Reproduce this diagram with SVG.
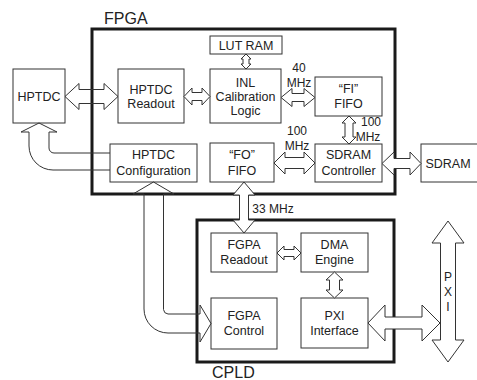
<svg xmlns="http://www.w3.org/2000/svg" width="477" height="380" viewBox="0 0 477 380">
<style>
.box{fill:#fff;stroke:#333;stroke-width:1}
.cont{fill:none;stroke:#1a1a1a;stroke-width:3}
.t{font-family:"Liberation Sans",Arial,sans-serif;font-size:12.5px;fill:#222;text-anchor:middle}
.s{font-family:"Liberation Sans",Arial,sans-serif;font-size:12px;fill:#222;text-anchor:middle}
.big{font-family:"Liberation Sans",Arial,sans-serif;font-size:16px;fill:#222}
.arr{fill:#fff;stroke:#333;stroke-width:1;stroke-linejoin:miter}
.open{fill:none;stroke:#333;stroke-width:1}
</style>
<rect width="477" height="380" fill="#fff"/>

<g id="fpga">
<rect class="cont" x="92" y="29" width="303" height="165"/>
<text class="big" x="104" y="24">FPGA</text>
</g>
<g id="cpld">
<rect class="cont" x="197" y="220" width="197" height="142"/>
<text class="big" x="212" y="378">CPLD</text>
</g>

<g id="hptdc">
<rect class="box" x="13" y="69" width="52" height="54"/>
<text class="t" x="39" y="100.5">HPTDC</text>
</g>
<g id="hptdc-readout">
<rect class="box" x="118" y="69" width="66" height="54"/>
<text class="t" x="151" y="94">HPTDC</text>
<text class="t" x="151" y="108">Readout</text>
</g>
<g id="lut-ram">
<rect class="box" x="210" y="36" width="72" height="18"/>
<text class="t" x="246" y="50">LUT RAM</text>
</g>
<g id="inl">
<rect class="box" x="210" y="69" width="71" height="54"/>
<text class="t" x="245.5" y="87">INL</text>
<text class="t" x="245.5" y="101">Calibration</text>
<text class="t" x="245.5" y="115">Logic</text>
</g>
<g id="fi-fifo">
<rect class="box" x="315" y="77" width="67" height="39"/>
<text class="t" x="348.5" y="93">“FI”</text>
<text class="t" x="348.5" y="108">FIFO</text>
</g>
<g id="hptdc-config">
<rect class="box" x="110" y="144" width="87" height="38"/>
<text class="t" x="153.5" y="159">HPTDC</text>
<text class="t" x="153.5" y="175">Configuration</text>
</g>
<g id="fo-fifo">
<rect class="box" x="210" y="143" width="64" height="39"/>
<text class="t" x="242" y="159">“FO”</text>
<text class="t" x="242" y="175">FIFO</text>
</g>
<g id="sdram-ctrl">
<rect class="box" x="315" y="144" width="67" height="38"/>
<text class="t" x="348.5" y="159">SDRAM</text>
<text class="t" x="348.5" y="175">Controller</text>
</g>
<g id="sdram">
<rect class="box" x="421" y="144" width="60" height="38"/>
<text class="t" x="448" y="167.5">SDRAM</text>
</g>
<g id="fgpa-readout">
<rect class="box" x="211" y="233" width="66" height="39"/>
<text class="t" x="244" y="249">FGPA</text>
<text class="t" x="244" y="264">Readout</text>
</g>
<g id="dma-engine">
<rect class="box" x="301" y="233" width="67" height="39"/>
<text class="t" x="334.5" y="249">DMA</text>
<text class="t" x="334.5" y="264">Engine</text>
</g>
<g id="fgpa-control">
<rect class="box" x="211" y="298" width="66" height="51"/>
<text class="t" x="244" y="320">FGPA</text>
<text class="t" x="244" y="335">Control</text>
</g>
<g id="pxi-interface">
<rect class="box" x="301" y="298" width="67" height="50"/>
<text class="t" x="334.5" y="320">PXI</text>
<text class="t" x="334.5" y="335">Interface</text>
</g>

<g id="connectors">
<!-- HPTDC <-> HPTDC Readout -->
<polygon class="open" points="65,96.5 79,83.5 79,89.5 104,89.5 104,83.5 118,96.5 104,109.5 104,103.5 79,103.5 79,109.5"/>
<!-- Readout <-> INL -->
<polygon class="arr" points="184,96.5 192,88 192,92.5 202,92.5 202,88 210,96.5 202,105 202,100.5 192,100.5 192,105"/>
<!-- LUT RAM <-> INL -->
<polygon class="arr" points="246,54 251,59 249,59 249,64 251,64 246,69 241,64 243,64 243,59 241,59"/>
<!-- INL <-> FI FIFO -->
<polygon class="arr" points="281,97.5 292,88.5 292,93.5 304,93.5 304,88.5 315,97.5 304,106.5 304,101.5 292,101.5 292,106.5"/>
<!-- FI FIFO <-> SDRAM Controller -->
<polygon class="arr" points="349,116 356,123 353,123 353,137 356,137 349,144 342,137 345,137 345,123 342,123"/>
<!-- FO FIFO <-> SDRAM Controller -->
<polygon class="arr" points="274,163 285,152 285,157.5 304,157.5 304,152 315,163 304,174 304,168.5 285,168.5 285,174"/>
<!-- SDRAM Controller <-> SDRAM -->
<polygon class="arr" points="382,163.5 394,152 394,158.5 410,158.5 410,152 421,163.5 410,175 410,168.5 394,168.5 394,175"/>
<!-- FO FIFO <-> FGPA Readout -->
<polygon class="arr" points="244,182 255,195 248.5,195 248.5,220 255,220 244,233 233,220 239.5,220 239.5,195 233,195"/>
<!-- FGPA Readout <-> DMA Engine -->
<polygon class="arr" points="277,253 284,246 284,249.5 294,249.5 294,246 301,253 294,260 294,256.5 284,256.5 284,260"/>
<!-- DMA Engine <-> PXI Interface -->
<polygon class="arr" points="334.5,272 343,280 339.5,280 339.5,290 343,290 334.5,298 326,290 329.5,290 329.5,280 326,280"/>
<!-- PXI Interface <-> PXI bus -->
<polygon class="arr" points="368,323 385,305 385,317 422,317 422,305 440,323 422,341 422,329 385,329 385,341"/>
<!-- PXI bus -->
<polygon class="arr" points="448,221 464,243 455.5,243 455.5,340 464,340 448,362 432,340 440.5,340 440.5,243 432,243"/>
<text class="s" x="448" y="281">P</text>
<text class="s" x="448" y="296">X</text>
<text class="s" x="448" y="311">I</text>
<!-- HPTDC Configuration -> HPTDC -->
<path class="open" d="M110,153 L54,153 A5,5 0 0 1 49,148 L49,132 L57,132 L39,123 L21,132 L29,132 L29,146 A24,24 0 0 0 53,170 L110,170"/>
<!-- HPTDC Configuration <-> FGPA Control -->
<path class="open" d="M163.5,194 L174,194 L153.5,182 L133,194 L144,194 L144,309 A24,24 0 0 0 168,333 L200,333 L200,342 L211,323.5 L200,305 L200,314 L168,314 A5,5 0 0 1 163.5,309.5 Z"/>
<!-- clock labels -->
<text class="s" x="299" y="72">40</text>
<text class="s" x="299" y="87">MHz</text>
<text class="s" x="297" y="135">100</text>
<text class="s" x="297" y="150">MHz</text>
<text class="s" x="371" y="126">100</text>
<text class="s" x="368" y="141">MHz</text>
<text class="s" x="273" y="213">33 MHz</text>
</g>
</svg>
